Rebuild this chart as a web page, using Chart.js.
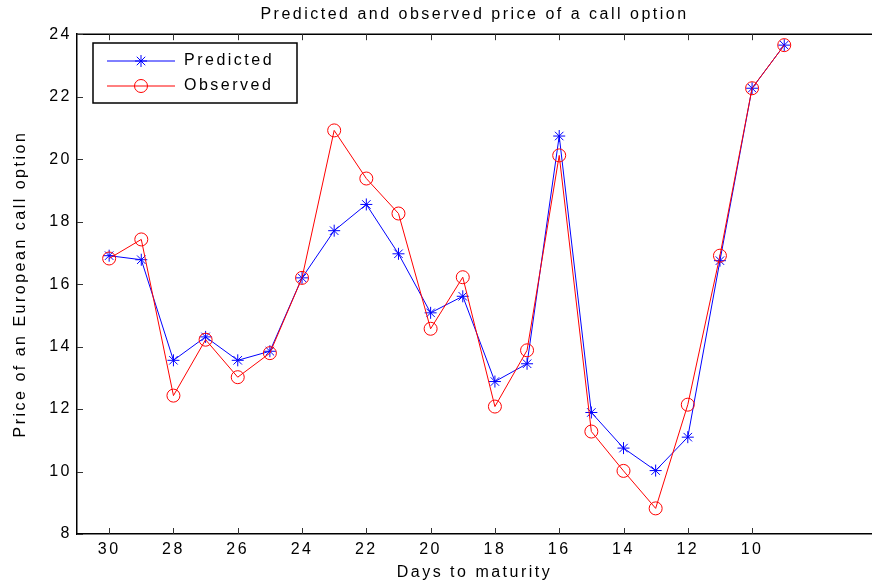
<!DOCTYPE html>
<html>
<head>
<meta charset="utf-8">
<title>Predicted and observed price of a call option</title>
<script src="https://cdn.jsdelivr.net/npm/chart.js@4/dist/chart.umd.min.js"></script>
<style>
  body { margin: 0; background: #fff; }
  #wrap { width: 872px; height: 584px; }
</style>
</head>
<body>
<div id="wrap"><canvas id="priceChart"></canvas></div>
<script>
const days = [30, 29, 28, 27, 26, 25, 24, 23, 22, 21, 20, 19, 18, 17, 16, 15, 14, 13, 12, 11, 10, 9];
const predicted = [16.91, 16.78, 13.56, 14.31, 13.56, 13.85, 16.20, 17.71, 18.55, 16.97, 15.08, 15.61,
                   12.88, 13.45, 20.74, 11.89, 10.75, 10.03, 11.10, 16.75, 22.27, 23.65];
const observed = [16.82, 17.43, 12.43, 14.22, 13.02, 13.79, 16.20, 20.92, 19.38, 18.26, 14.57, 16.22,
                  12.08, 13.88, 20.12, 11.28, 10.02, 8.82, 12.14, 16.91, 22.27, 23.65];
const xTicks = [30, 28, 26, 24, 22, 20, 18, 16, 14, 12, 10];
const yTicks = [8, 10, 12, 14, 16, 18, 20, 22, 24];

const font = { family: '"Liberation Sans", Arial, Helvetica, sans-serif', size: 16, weight: 'normal' };
const spacing = '2.5px';

// matlab-ish wide text
const letterSpacing = {
    id: 'letterSpacing',
    beforeLayout(chart) { chart.ctx.letterSpacing = spacing; },
    beforeDraw(chart) { chart.ctx.letterSpacing = spacing; }
};

// top box line + inward tick marks
const frame = {
    id: 'frame',
    afterDraw(chart) {
        const { ctx, chartArea: a, scales } = chart;
        ctx.save();
        ctx.strokeStyle = '#000';
        ctx.lineWidth = 1.5;
        ctx.beginPath();
        ctx.moveTo(a.left, a.top);
        ctx.lineTo(a.right, a.top);
        ctx.stroke();
        ctx.lineWidth = 1;
        ctx.strokeStyle = '#333';
        ctx.beginPath();
        xTicks.forEach(v => {
            const px = Math.round(scales.x.getPixelForValue(v)) + 0.5;
            ctx.moveTo(px, a.bottom);
            ctx.lineTo(px, a.bottom - 6);
            ctx.moveTo(px, a.top);
            ctx.lineTo(px, a.top + 6);
        });
        yTicks.forEach(v => {
            const py = Math.round(scales.y.getPixelForValue(v)) + 0.5;
            ctx.moveTo(a.left, py);
            ctx.lineTo(a.left + 6, py);
        });
        ctx.stroke();
        ctx.restore();
    }
};

// legend box with line + marker, upper left inside the axes
const boxLegend = {
    id: 'boxLegend',
    afterDraw(chart) {
        const { ctx } = chart;
        const x0 = 93, y0 = 43, w = 204, h = 60;
        ctx.save();
        ctx.fillStyle = '#fff';
        ctx.fillRect(x0, y0, w, h);
        ctx.strokeStyle = '#000';
        ctx.lineWidth = 1.5;
        ctx.strokeRect(x0, y0, w, h);
        chart.data.datasets.forEach((ds, i) => {
            const y = y0 + 18 + i * 25;
            ctx.strokeStyle = ds.borderColor;
            ctx.lineWidth = 1;
            ctx.beginPath();
            ctx.moveTo(x0 + 14, y);
            ctx.lineTo(x0 + 82, y);
            ctx.stroke();
            ctx.fillStyle = 'rgba(0,0,0,0)';
            Chart.helpers.drawPoint(ctx, {
                pointStyle: ds.pointStyle, radius: ds.pointRadius, rotation: 0, borderWidth: 1
            }, x0 + 48, y);
            ctx.fillStyle = '#000';
            ctx.font = `${font.size}px ${font.family}`;
            ctx.textBaseline = 'middle';
            ctx.textAlign = 'left';
            ctx.fillText(ds.label, x0 + 91, y);
        });
        ctx.restore();
    }
};

const ctx = document.getElementById('priceChart').getContext('2d');
const priceChart = new Chart(ctx, {
    type: 'line',
    data: {
        datasets: [
            {
                label: 'Predicted',
                data: days.map((d, i) => ({ x: d, y: predicted[i] })),
                borderColor: '#0000ff',
                borderWidth: 1,
                pointStyle: 'star',
                pointRadius: 6,
                pointBorderColor: '#0000ff',
                pointBackgroundColor: 'rgba(0,0,0,0)',
                pointBorderWidth: 1,
                tension: 0,
                order: 1
            },
            {
                label: 'Observed',
                data: days.map((d, i) => ({ x: d, y: observed[i] })),
                borderColor: '#ff0000',
                borderWidth: 1,
                pointStyle: 'circle',
                pointRadius: 6.5,
                pointBorderColor: '#ff0000',
                pointBackgroundColor: 'rgba(0,0,0,0)',
                pointBorderWidth: 1,
                tension: 0,
                order: 0
            }
        ]
    },
    options: {
        responsive: true,
        maintainAspectRatio: false,
        animation: false,
        layout: { padding: 0, autoPadding: false },
        plugins: {
            legend: { display: false },
            tooltip: { enabled: false },
            title: {
                display: true,
                text: 'Predicted and observed price of a call option',
                font: font,
                color: '#000',
                fullSize: false,
                padding: { top: 5, bottom: 10 }
            }
        },
        scales: {
            x: {
                type: 'linear',
                reverse: true,
                min: 6.27,
                max: 31,
                afterBuildTicks: s => { s.ticks = xTicks.map(v => ({ value: v })); },
                afterFit: s => { s.height = 50; s.paddingRight = 0; },
                ticks: { color: '#000', font: font, padding: 6, maxRotation: 0, autoSkip: false },
                grid: { display: false, drawTicks: false },
                border: { display: true, color: '#000', width: 1.5 },
                title: {
                    display: true,
                    text: 'Days to maturity',
                    color: '#000',
                    font: font,
                    padding: { top: 2, bottom: 2 }
                }
            },
            y: {
                type: 'linear',
                min: 8,
                max: 24,
                afterBuildTicks: s => { s.ticks = yTicks.map(v => ({ value: v })); },
                afterFit: s => { s.width = 77; },
                ticks: { color: '#000', font: font, padding: 5 },
                grid: { display: false, drawTicks: false },
                border: { display: true, color: '#000', width: 1.5 },
                title: {
                    display: true,
                    text: 'Price of an European call option',
                    color: '#000',
                    font: font,
                    padding: { top: 11, bottom: 0 }
                }
            }
        }
    },
    plugins: [letterSpacing, frame, boxLegend]
});
</script>
</body>
</html>
